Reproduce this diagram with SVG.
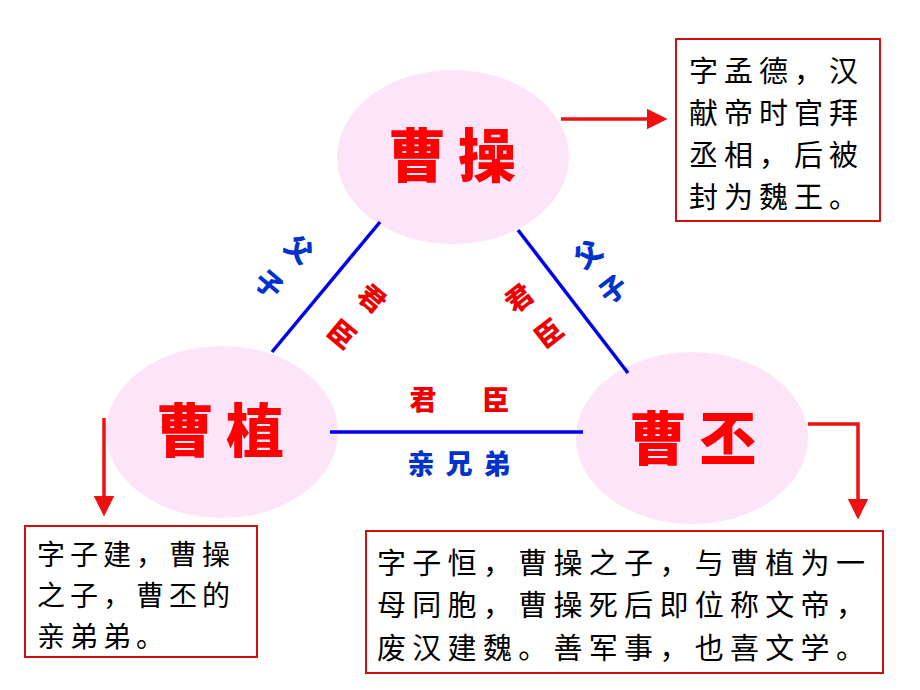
<svg xmlns="http://www.w3.org/2000/svg" width="920" height="690" viewBox="0 0 920 690">
<defs>
<style>
.ell{fill:#fce5f8;}
.name{font-family:"Noto Sans CJK SC","Noto Sans CJK TC",sans-serif;font-weight:900;fill:#ff0000;font-size:58px;text-anchor:middle;letter-spacing:12px;}
.lbl{font-family:"Noto Sans CJK SC",sans-serif;font-weight:900;font-size:27px;text-anchor:middle;dominant-baseline:central;}
.red{fill:#ee0000;}
.blue{fill:#0033cc;}
.link{stroke:#0000ee;stroke-width:3.5;fill:none;}
.arr{stroke:#ee1111;stroke-width:3.5;fill:none;}
.box{fill:#ffffff;stroke:#cc1111;stroke-width:2;}
.bt{font-family:"Noto Sans CJK SC",sans-serif;font-size:29px;fill:#000;letter-spacing:6px;}
</style>
<marker id="ah" markerWidth="6" markerHeight="6" refX="5" refY="3" orient="auto" markerUnits="strokeWidth">
<path d="M0,0 L6,3 L0,6 z" fill="#ee1111"/>
</marker>
</defs>
<rect width="920" height="690" fill="#ffffff"/>

<g id="caocao">
<ellipse class="ell" cx="453" cy="157" rx="116" ry="87"/>
<text class="name" x="458" y="177">曹操</text>
</g>
<g id="caozhi">
<ellipse class="ell" cx="222" cy="432" rx="116" ry="86"/>
<text class="name" x="226" y="452">曹植</text>
</g>
<g id="caopi">
<ellipse class="ell" cx="692" cy="438" rx="116" ry="86"/>
<text class="name" x="699" y="460">曹丕</text>
</g>

<g id="connectors">
<line class="link" x1="380" y1="222" x2="272" y2="352"/>
<line class="link" x1="518" y1="230" x2="628" y2="373"/>
<line class="link" x1="330" y1="432" x2="583" y2="432"/>
<path class="arr" d="M561,119 L664,119" marker-end="url(#ah)"/>
<path class="arr" d="M104,418 L104,513" marker-end="url(#ah)"/>
<path class="arr" d="M808,424 L858,424 L858,516" marker-end="url(#ah)"/>
</g>

<g id="labels">
<text class="lbl blue" transform="translate(300,248) rotate(40)">父</text>
<text class="lbl blue" transform="translate(270,283) rotate(40)">子</text>
<text class="lbl red" transform="translate(373,297) rotate(40)">君</text>
<text class="lbl red" transform="translate(343,333) rotate(40)">臣</text>
<text class="lbl blue" transform="translate(587,253) rotate(-38)">父</text>
<text class="lbl blue" transform="translate(612,288) rotate(-38)">子</text>
<text class="lbl red" transform="translate(518,297) rotate(-38)">君</text>
<text class="lbl red" transform="translate(548,332) rotate(-38)">臣</text>
<text class="lbl red" x="423" y="398">君</text>
<text class="lbl red" x="496" y="398">臣</text>
<text class="lbl blue" x="421" y="462">亲</text>
<text class="lbl blue" x="459" y="462">兄</text>
<text class="lbl blue" x="497" y="462">弟</text>
</g>

<g id="box-caocao">
<rect class="box" x="676" y="39" width="204" height="182"/>
<text class="bt" x="689" y="82">字孟德，汉</text>
<text class="bt" x="689" y="124">献帝时官拜</text>
<text class="bt" x="689" y="166">丞相，后被</text>
<text class="bt" x="689" y="208">封为魏王。</text>
</g>
<g id="box-caozhi">
<rect class="box" x="25" y="526" width="232" height="131"/>
<text class="bt" x="37" y="565" style="font-size:28px;letter-spacing:5px">字子建，曹操</text>
<text class="bt" x="37" y="606" style="font-size:28px;letter-spacing:5px">之子，曹丕的</text>
<text class="bt" x="37" y="647" style="font-size:28px;letter-spacing:5px">亲弟弟。</text>
</g>
<g id="box-caopi">
<rect class="box" x="366" y="531" width="517" height="142"/>
<text class="bt" x="377" y="574" style="letter-spacing:6.3px">字子恒，曹操之子，与曹植为一</text>
<text class="bt" x="377" y="616" style="letter-spacing:6.3px">母同胞，曹操死后即位称文帝，</text>
<text class="bt" x="377" y="659" style="letter-spacing:6.3px">废汉建魏。善军事，也喜文学。</text>
</g>
</svg>
